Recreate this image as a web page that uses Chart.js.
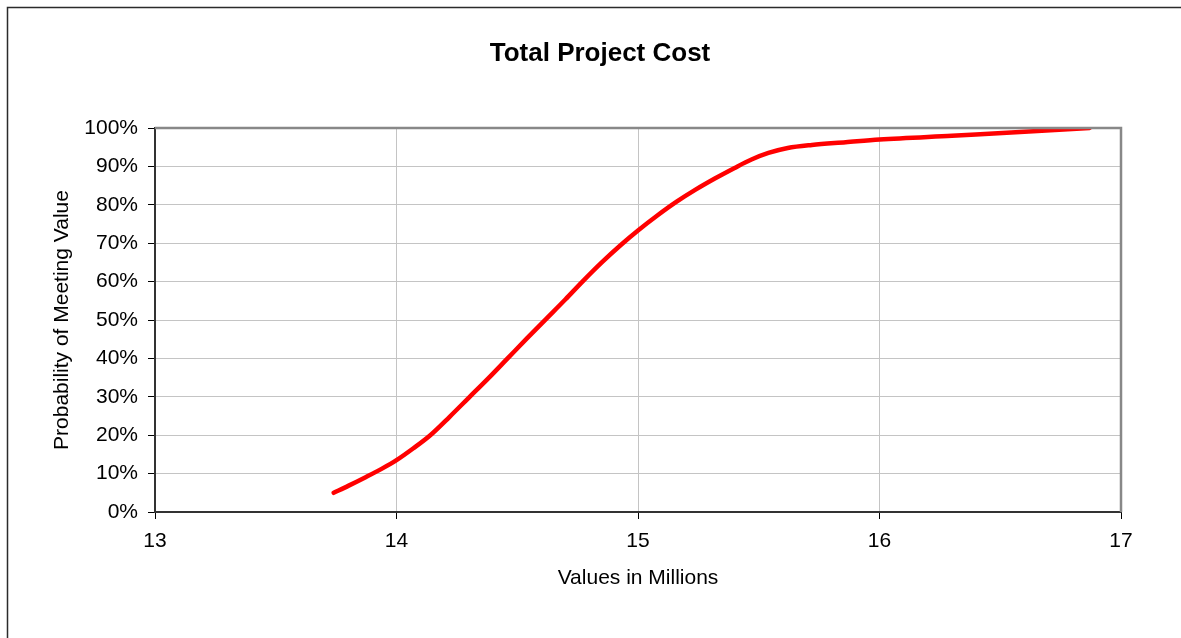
<!DOCTYPE html>
<html>
<head>
<meta charset="utf-8">
<title>Total Project Cost</title>
<script src="https://cdn.jsdelivr.net/npm/chart.js@4/dist/chart.umd.min.js"></script>
<style>
  html, body { margin: 0; padding: 0; background: #ffffff; }
  #wrap { position: relative; width: 1181px; height: 638px; }
</style>
</head>
<body>
<div id="wrap"><canvas id="chart" width="1181" height="638"></canvas></div>
<script>
// Cumulative probability of the total project cost (values in millions)
const costMillions = [13.74, 13.80, 13.87, 13.94, 14.00, 14.07, 14.14, 14.22, 14.30, 14.38,
                      14.46, 14.54, 14.62, 14.70, 14.77, 14.85, 14.93, 15.00, 15.08, 15.16,
                      15.24, 15.32, 15.40, 15.47, 15.54, 15.62, 15.72, 15.86, 16.00, 16.30,
                      16.60, 16.87];
const probability  = [5, 6.8, 9, 11.3, 13.5, 16.6, 20, 24.8, 29.8, 34.8,
                      40, 45.2, 50.3, 55.4, 60, 65, 69.6, 73.3, 77.2, 80.8,
                      84, 86.9, 89.6, 91.8, 93.5, 94.8, 95.6, 96.3, 97, 98,
                      99, 100];

const chartTitle = 'Total Project Cost';
const xTickLabels = ['13', '14', '15', '16', '17'];
const yTickLabels = ['0%', '10%', '20%', '30%', '40%', '50%', '60%', '70%', '80%', '90%', '100%'];

const FONT = '"Liberation Sans", Arial, sans-serif';

// Outer frame, chart title and the gray top/right edges of the plot area
const framePlugin = {
  id: 'frame',
  beforeDraw(chart) {
    const ctx = chart.ctx;
    ctx.save();
    ctx.fillStyle = '#ffffff';
    ctx.fillRect(0, 0, chart.width, chart.height);
    ctx.strokeStyle = '#2b2b2b';
    ctx.lineWidth = 1.5;
    ctx.strokeRect(7.5, 7.5, chart.width + 20, chart.height + 20);
    ctx.fillStyle = '#000000';
    ctx.font = 'bold 26px ' + FONT;
    ctx.textAlign = 'center';
    ctx.textBaseline = 'middle';
    ctx.fillText(chartTitle, 600, 54);
    ctx.restore();
  },
  afterDatasetsDraw(chart) {
    const a = chart.chartArea;
    const ctx = chart.ctx;
    ctx.save();
    ctx.strokeStyle = '#888888';
    ctx.lineWidth = 2.5;
    ctx.beginPath();
    ctx.moveTo(a.left, a.top);
    ctx.lineTo(a.right, a.top);
    ctx.lineTo(a.right, a.bottom);
    ctx.stroke();
    ctx.restore();
  }
};

new Chart(document.getElementById('chart'), {
  type: 'line',
  data: {
    datasets: [{
      data: costMillions.map((x, i) => ({ x: x, y: probability[i] })),
      borderColor: '#ff0000',
      borderWidth: 4.5,
      borderCapStyle: 'round',
      borderJoinStyle: 'round',
      pointRadius: 0,
      cubicInterpolationMode: 'monotone',
      fill: false
    }]
  },
  options: {
    responsive: false,
    animation: false,
    events: [],
    layout: { padding: { left: 0, right: 60, top: 128, bottom: 0 } },
    plugins: {
      legend: { display: false },
      tooltip: { enabled: false },
      title: { display: false }
    },
    scales: {
      x: {
        type: 'linear',
        min: 13,
        max: 17,
        afterFit(scale) { scale.height = 126; },
        ticks: {
          stepSize: 1,
          color: '#000000',
          padding: 10,
          maxRotation: 0,
          font: { family: FONT, size: 21 },
          callback: (v) => xTickLabels[Math.round(v - 13)]
        },
        grid: {
          color: '#c4c4c4',
          lineWidth: 1,
          tickLength: 7,
          tickColor: '#000000',
          tickWidth: 1
        },
        border: { display: true, color: '#333333', width: 2 },
        title: {
          display: true,
          text: 'Values in Millions',
          color: '#000000',
          font: { family: FONT, size: 21, lineHeight: 1.2 },
          padding: { top: 0, bottom: 47 }
        }
      },
      y: {
        type: 'linear',
        min: 0,
        max: 100,
        afterFit(scale) { scale.width = 155; },
        ticks: {
          stepSize: 10,
          color: '#000000',
          padding: 10,
          font: { family: FONT, size: 21 },
          callback: (v) => yTickLabels[Math.round(v / 10)]
        },
        grid: {
          color: '#c4c4c4',
          lineWidth: 1,
          tickLength: 7,
          tickColor: '#000000',
          tickWidth: 1
        },
        border: { display: true, color: '#333333', width: 2 },
        title: {
          display: true,
          text: 'Probability of Meeting Value',
          color: '#000000',
          font: { family: FONT, size: 21, lineHeight: 1.2 },
          padding: { top: 50, bottom: 0 }
        }
      }
    }
  },
  plugins: [framePlugin]
});
</script>
</body>
</html>
